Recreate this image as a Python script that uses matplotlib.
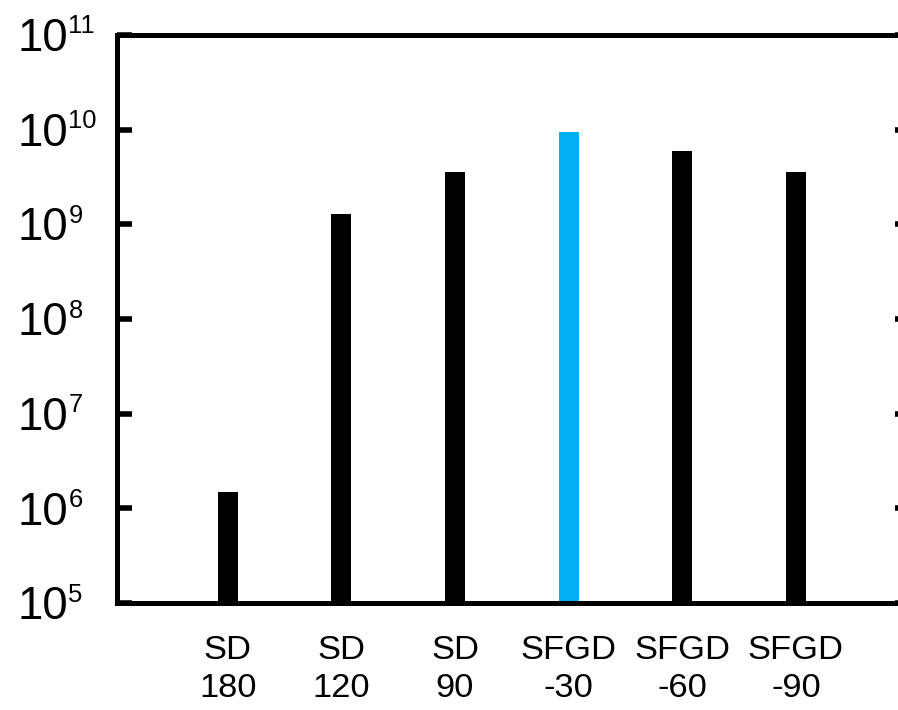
import matplotlib
matplotlib.use("Agg")
import matplotlib.pyplot as plt
from matplotlib.ticker import NullLocator

categories = ["SD\n180", "SD\n120", "SD\n90", "SFGD\n-30", "SFGD\n-60", "SFGD\n-90"]
values = [1.50e6, 1.27e9, 3.6e9, 9.5e9, 5.9e9, 3.55e9]
colors = ["#000000", "#000000", "#000000", "#00B0F0", "#000000", "#000000"]
yticks = [1e5, 1e6, 1e7, 1e8, 1e9, 1e10, 1e11]
ytick_base = "10"
ytick_exps = ["5", "6", "7", "8", "9", "10", "11"]

plt.rcParams["font.family"] = ["Liberation Sans", "DejaVu Sans"]

fig = plt.figure(figsize=(8.98, 7.10), dpi=100)
ax = fig.add_axes([0.1303, 0.1504, 0.8826, 0.8006])

x = list(range(1, len(categories) + 1))
ax.bar(x, values, width=0.176, color=colors, zorder=1)
ax.set_yscale("log")
ax.set_ylim(1e5, 1e11)
ax.set_xlim(0.025, 7.0)

ax.set_yticks(yticks)
ax.set_yticklabels([""] * len(yticks))
ax.yaxis.set_minor_locator(NullLocator())
ax.tick_params(axis="y", which="major", direction="in", length=11, width=4,
               right=True)

for t, e in zip(yticks, ytick_exps):
    ax.annotate(ytick_base, xy=(0, t), xycoords=("axes fraction", "data"),
                xytext=(-99.3, -16.2), textcoords="offset pixels",
                ha="left", va="baseline", fontsize=32.8, annotation_clip=False)
    ax.annotate(e, xy=(0, t), xycoords=("axes fraction", "data"),
                xytext=(-48.6, 1.5), textcoords="offset pixels",
                ha="left", va="baseline", fontsize=18.4, annotation_clip=False)

ax.set_xticks(x)
ax.set_xticklabels(categories, fontsize=24.8, linespacing=1.3)
ax.tick_params(axis="x", length=0, pad=23)

for s in ax.spines.values():
    s.set_linewidth(3.6)

fig.savefig("out.png", dpi=100)
